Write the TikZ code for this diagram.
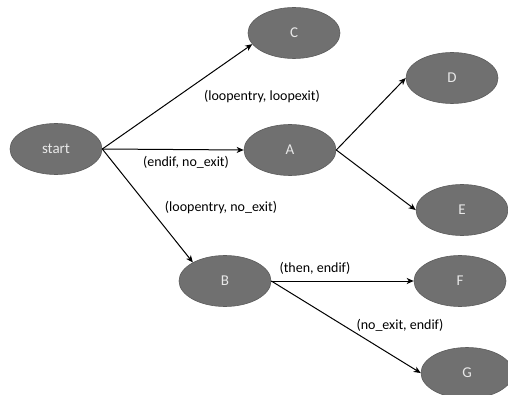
\documentclass[tikz,border=0pt]{standalone}
\usepackage{fontspec}
\setmainfont{Carlito}
\usetikzlibrary{shapes.geometric,arrows.meta}
\definecolor{nodefill}{RGB}{112,112,112}
\definecolor{nodeedge}{RGB}{92,92,92}
\definecolor{nodetext}{RGB}{232,232,232}
\tikzset{
  state/.style={ellipse, draw=nodeedge, line width=0.6pt, fill=nodefill,
    minimum width=92pt, minimum height=51pt, inner sep=0pt,
    text=nodetext, font=\fontsize{15}{17}\selectfont},
  edgelabel/.style={font=\fontsize{14}{16}\selectfont, inner sep=0pt, text=black},
  flow/.style={line width=1pt, -{Stealth[length=7pt,width=6pt,inset=2pt]}}
}
\begin{document}
\begin{tikzpicture}[x=1pt,y=-1pt]
  \useasboundingbox (0,0) rectangle (508,395);
  % states
  \node[state] (start) at (56,149) {start};
  \node[state] (C) at (294,33) {C};
  \node[state] (A) at (290,150) {A};
  \node[state] (D) at (452,78) {D};
  \node[state] (E) at (462,210) {E};
  \node[state] (B) at (225,281) {B};
  \node[state] (F) at (460,281) {F};
  \node[state] (G) at (467,373) {G};
  % transitions
  \draw[flow] (start.east) -- (C.195);
  \draw[flow] (start.east) -- (A.west);
  \draw[flow] (start.east) -- (B.150);
  \draw[flow] (A.east) -- (D.west);
  \draw[flow] (A.east) -- (E.west);
  \draw[flow] (B.east) -- (F.west);
  \draw[flow] (B.east) -- (G.west);
  % transition labels
  \node[edgelabel] (lC) at (262,97) {(loopentry, loopexit)};
  \node[edgelabel] (lA) at (186,162) {(endif, no\_exit)};
  \node[edgelabel] (lB) at (221,208) {(loopentry, no\_exit)};
  \node[edgelabel] (lF) at (315,268) {(then, endif)};
  \node[edgelabel] (lG) at (400,325) {(no\_exit, endif)};
\end{tikzpicture}
\end{document}
